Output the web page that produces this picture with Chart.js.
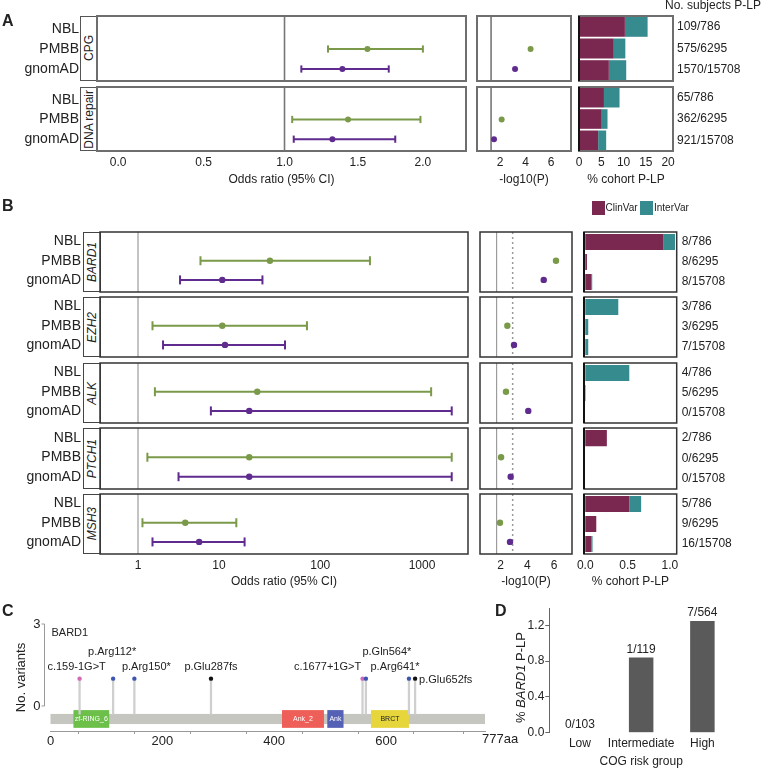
<!DOCTYPE html>
<html>
<head>
<meta charset="utf-8">
<script src="https://cdn.jsdelivr.net/npm/chart.js"></script>
<style>
  body { margin: 0; background: #fff; font-family: 'Liberation Sans', Arial, sans-serif; color: #222; }
  #fig { position: relative; width: 763px; height: 769px; overflow: hidden; }
  .lbl { position: absolute; white-space: nowrap; line-height: 1; }
  .letter { position: absolute; font-weight: bold; font-size: 16px; line-height: 1; }
  .strip { position: absolute; box-sizing: border-box; display: flex; align-items: center; justify-content: center; }
  .strip span { writing-mode: vertical-rl; transform: rotate(180deg); white-space: nowrap; font-size: 12px; }
  .sq { position: absolute; width: 13px; height: 14px; }
</style>
</head>
<body>
<div id="fig"></div>
<script>
// ---- data ----
const cohorts = ['NBL', 'PMBB', 'gnomAD'];
const groupsA = ['CPG', 'DNA repair'];
const genesB = ['BARD1', 'EZH2', 'ALK', 'PTCH1', 'MSH3'];

// odds ratio [estimate, lower, upper]; NBL is the case cohort so it has no row
const orPmbbA = [[1.57, 1.29, 2.0], [1.43, 1.05, 1.98]];
const orGnomadA = [[1.39, 1.11, 1.73], [1.32, 1.06, 1.78]];
const orPmbbB = [[32, 6.5, 308], [10.8, 1.8, 74], [24, 1.95, 1230], [20, 1.5, 1960], [4.5, 1.23, 14.9]];
const orGnomadB = [[10.8, 3.95, 27], [11.5, 2.5, 45], [20, 8.3, 1960], [20, 3.8, 1960], [6.3, 1.8, 18]];

// -log10(P)
const logpPmbbA = [4.4, 2.13];
const logpGnomadA = [3.18, 1.53];
const logpPmbbB = [6.15, 2.5, 2.4, 2.03, 1.95];
const logpGnomadB = [5.23, 3.0, 4.07, 2.75, 2.7];

// % cohort P-LP, rows NBL / PMBB / gnomAD
const clinvarA = [[10.3, 7.8, 6.7], [5.6, 5.1, 4.3]];
const intervarA = [[5.1, 2.6, 3.9], [3.5, 1.3, 1.8]];
const clinvarB = [[0.92, 0.02, 0.07], [0, 0, 0], [0, 0, 0], [0.255, 0, 0], [0.52, 0.13, 0.07]];
const intervarB = [[0.14, 0, 0.012], [0.39, 0.035, 0.035], [0.52, 0.006, 0], [0, 0, 0], [0.14, 0, 0.016]];

const countsA = [['109/786', '575/6295', '1570/15708'], ['65/786', '362/6295', '921/15708']];
const countsB = [['8/786', '8/6295', '8/15708'], ['3/786', '3/6295', '7/15708'], ['4/786', '5/6295', '0/15708'],
                 ['2/786', '0/6295', '0/15708'], ['5/786', '9/6295', '16/15708']];

const orTicksA = [0, 0.5, 1, 1.5, 2];
const orTicksB = [1, 10, 100, 1000];
const logpTicks = [2, 4, 6];
const pctTicksA = [0, 5, 10, 15, 20];
const pctTicksB = [0, 0.5, 1];

// panel C: BARD1 lollipops
const proteinLength = 777;
const variantPos = [52, 112, 150, 287, 558, 564, 641, 652];
const variantLabels = ['c.159-1G>T', 'p.Arg112*', 'p.Arg150*', 'p.Glu287fs', 'c.1677+1G>T', 'p.Gln564*', 'p.Arg641*', 'p.Glu652fs'];
const variantCounts = [1, 1, 1, 1, 1, 1, 1, 1];
const variantType = ['splice', 'nonsense', 'nonsense', 'frameshift', 'splice', 'nonsense', 'nonsense', 'frameshift'];
const domainNames = ['zf-RING_6', 'Ank_2', 'Ank', 'BRCT'];
const domainStart = [41, 414, 495, 573];
const domainEnd = [105, 489, 524, 641];
const proteinTicks = [0, 100, 200, 300, 400, 500, 600, 700, 777];

// panel D
const riskGroups = ['Low', 'Intermediate', 'High'];
const bard1Pct = [0, 0.84, 1.25];
const riskCounts = ['0/103', '1/119', '7/564'];
const riskTicks = [0, 0.4, 0.8, 1.2];

// ---- style ----
const GREEN = '#7a9a4a', PURPLE = '#5f2b8f', CLINVAR = '#7b2850', INTERVAR = '#368b8f';
const typeColor = { splice: '#d468b8', nonsense: '#3d55b0', frameshift: '#111' };
const domainColor = ['#6cc04a', '#ef5f5a', '#5561b5', '#e6d63c'];
const domainInk = ['#fff', '#fff', '#fff', '#222'];

Chart.defaults.font.family = "'Liberation Sans', Arial, sans-serif";
Chart.defaults.font.size = 12;
Chart.defaults.color = '#222';

// pseudo-log (ggplot pseudo_log_trans, sigma 1)
const plog = v => Math.asinh(v / 2);

const fig = document.getElementById('fig');

function mount(left, top, width, height, config) {
  const c = document.createElement('canvas');
  c.width = width; c.height = height;
  c.style.cssText = `position:absolute;left:${left}px;top:${top}px;width:${width}px;height:${height}px`;
  fig.appendChild(c);
  config.options = Object.assign({ responsive: false, animation: false, devicePixelRatio: 1, events: [] }, config.options);
  config.options.layout.autoPadding = false;
  return new Chart(c, config);
}

function html(cls, left, top, text, extra) {
  const d = document.createElement('div');
  d.className = cls;
  d.style.left = left + 'px'; d.style.top = top + 'px';
  if (extra) Object.assign(d.style, extra);
  d.innerHTML = text;
  fig.appendChild(d);
  return d;
}

// keep axes from shrinking the plot box for their end labels
const noPad = s => { s.paddingTop = 0; s.paddingBottom = 0; s.paddingLeft = 0; s.paddingRight = 0; };

const framePlugin = {
  id: 'frame',
  afterDraw(chart, args, opts) {
    if (!opts.color) return;
    const { ctx, chartArea: a } = chart;
    ctx.save();
    ctx.strokeStyle = opts.color; ctx.lineWidth = opts.width || 1.5;
    ctx.strokeRect(a.left, a.top, a.right - a.left, a.bottom - a.top);
    if (opts.leftColor) {
      ctx.strokeStyle = opts.leftColor; ctx.lineWidth = opts.leftWidth || 2;
      ctx.beginPath(); ctx.moveTo(a.left, a.top); ctx.lineTo(a.left, a.bottom); ctx.stroke();
    }
    ctx.restore();
  }
};

const refPlugin = {
  id: 'refs',
  beforeDatasetsDraw(chart, args, opts) {
    const lines = opts.lines || [];
    const { ctx, chartArea: a, scales: { x } } = chart;
    ctx.save();
    lines.forEach(l => {
      const px = x.getPixelForValue(l.x);
      ctx.strokeStyle = l.color; ctx.lineWidth = l.width;
      ctx.setLineDash(l.dash || []);
      ctx.beginPath(); ctx.moveTo(px, a.top); ctx.lineTo(px, a.bottom); ctx.stroke();
    });
    ctx.restore();
  }
};
Chart.register(framePlugin, refPlugin);

const secA = {
  names: groupsA, italic: false, tops: [16, 87], bottoms: [81, 151],
  stripX: 80, forestX: [97, 466], logpX: [477, 571], pctX: [579, 673],
  orRange: [-0.061, 1.006], orTicks: orTicksA, orFmt: v => v.toFixed(1),
  logpRange: [0.196, 7.57], logpRefs: [{ x: 1.3, color: '#777', width: 1.6 }],
  pctRange: [0, 21.1], pctTicks: pctTicksA, pctFmt: v => String(v),
  yRange: [-0.65, 2.6],
  orP: orPmbbA, orG: orGnomadA, lpP: logpPmbbA, lpG: logpGnomadA,
  clin: clinvarA, inter: intervarA, counts: countsA,
  frame: '#6e6e6e', frameW: 2, strip: '1.6px solid #555', refOr: { color: '#777', width: 1.6 },
  cap: 3.6, dot: 3, labPad: 18, barPct: 0.92, countPad: 4, titlePb: 3.8
};
const secB = {
  names: genesB, italic: true, tops: [232, 297, 363, 428, 494], bottoms: [292, 357, 423, 489, 554],
  stripX: 83, forestX: [100, 468], logpX: [480, 572], pctX: [583.5, 676.7],
  orRange: [-0.379, 7.949], orTicks: orTicksB, orFmt: v => String(v),
  logpRange: [0.45, 7.35],
  logpRefs: [{ x: 1.7, color: '#8a8a8a', width: 1 }, { x: 2.9, color: '#999', width: 1.5, dash: [2, 3] }],
  pctRange: [-0.015, 1.08], pctTicks: pctTicksB, pctFmt: v => v.toFixed(1),
  yRange: [-0.5, 2.63],
  orP: orPmbbB, orG: orGnomadB, lpP: logpPmbbB, lpG: logpGnomadB,
  clin: clinvarB, inter: intervarB, counts: countsB,
  frame: '#333', frameW: 1.5, strip: '1.5px solid #444', refOr: { color: '#888', width: 1 },
  cap: 4.5, dot: 3.2, labPad: 19, barPct: 0.8, countPad: 5, titlePb: 5
};

const AXIS_H = 40;
const SIDE = 12;

function xAxis(sec, range, vals, texts, show, title) {
  return {
    type: 'linear', min: range[0], max: range[1], display: show,
    grid: { display: false, drawTicks: false }, border: { display: false },
    afterBuildTicks: s => { s.ticks = vals.map(v => ({ value: v })); },
    ticks: { padding: 4, autoSkip: false, maxRotation: 0, font: { size: 12 }, callback: (v, i) => texts[i] },
    title: { display: true, text: title, font: { size: 12 }, padding: { top: 0, bottom: sec.titlePb } },
    afterFit: s => { s.height = show ? AXIS_H : 0; noPad(s); }
  };
}

function rowAxis(sec, show) {
  return {
    type: 'linear', reverse: true, min: sec.yRange[0], max: sec.yRange[1], display: show,
    grid: { display: false, drawTicks: false }, border: { display: false },
    afterBuildTicks: s => { s.ticks = cohorts.map((c, k) => ({ value: k })); },
    ticks: { padding: sec.labPad, font: { size: 14 }, callback: v => cohorts[v] },
    afterFit: s => { s.width = show ? sec.forestX[0] : 0; noPad(s); }
  };
}

function buildFacet(sec, i) {
  const last = i === sec.names.length - 1;
  const top = sec.tops[i], H = sec.bottoms[i] - sec.tops[i];
  const canvasH = 2 + H + (last ? AXIS_H : 2);

  // strip label
  const st = html('strip', sec.stripX, top, `<span>${sec.names[i]}</span>`,
    { width: (sec.forestX[0] - sec.stripX + 1) + 'px', height: H + 'px', border: sec.strip });
  if (sec.italic) st.firstChild.style.fontStyle = 'italic';

  // forest plot
  const ds = [];
  [[sec.orP[i], GREEN, 1], [sec.orG[i], PURPLE, 2]].forEach(([r, col, row]) => {
    ds.push({ data: [{ x: plog(r[1]), y: row }, { x: plog(r[2]), y: row }], showLine: true,
      borderColor: col, borderWidth: 2, pointStyle: 'line', pointRotation: 90,
      pointRadius: sec.cap, pointBorderColor: col, pointBorderWidth: 2 });
    ds.push({ data: [{ x: plog(r[0]), y: row }], pointRadius: sec.dot, backgroundColor: col, borderWidth: 0 });
  });
  const orVals = sec.orTicks.map(plog), orText = sec.orTicks.map(sec.orFmt);
  mount(0, top - 2, sec.forestX[1] + 2, canvasH, {
    type: 'scatter', data: { datasets: ds },
    options: {
      layout: { padding: { top: 2, bottom: last ? 0 : 2, left: 0, right: 2 } },
      plugins: { legend: { display: false }, tooltip: { enabled: false },
        frame: { color: sec.frame, width: sec.frameW },
        refs: { lines: [Object.assign({ x: plog(1) }, sec.refOr)] } },
      scales: { x: xAxis(sec, sec.orRange, orVals, orText, last, 'Odds ratio (95% CI)'), y: rowAxis(sec, true) }
    }
  });

  // -log10(P)
  const lw = sec.logpX[1] - sec.logpX[0];
  mount(sec.logpX[0] - SIDE, top - 2, lw + 2 * SIDE, canvasH, {
    type: 'scatter',
    data: { datasets: [
      { data: [{ x: sec.lpP[i], y: 1 }], pointRadius: sec.dot, backgroundColor: GREEN, borderWidth: 0 },
      { data: [{ x: sec.lpG[i], y: 2 }], pointRadius: sec.dot, backgroundColor: PURPLE, borderWidth: 0 }
    ] },
    options: {
      layout: { padding: { top: 2, bottom: last ? 0 : 2, left: SIDE, right: SIDE } },
      plugins: { legend: { display: false }, tooltip: { enabled: false },
        frame: { color: sec.frame, width: sec.frameW }, refs: { lines: sec.logpRefs } },
      scales: { x: xAxis(sec, sec.logpRange, logpTicks, logpTicks.map(String), last, '-log10(P)'), y: rowAxis(sec, false) }
    }
  });

  // % cohort P-LP
  const left = sec.pctX[0] - SIDE;
  mount(left, top - 2, 763 - left, canvasH, {
    type: 'bar',
    data: { labels: cohorts, datasets: [
      { label: 'ClinVar', data: sec.clin[i], backgroundColor: CLINVAR, barPercentage: sec.barPct, categoryPercentage: 1 },
      { label: 'InterVar', data: sec.inter[i], backgroundColor: INTERVAR, barPercentage: sec.barPct, categoryPercentage: 1 }
    ] },
    options: {
      indexAxis: 'y',
      layout: { padding: { top: 2, bottom: last ? 0 : 2, left: SIDE, right: 0 } },
      plugins: { legend: { display: false }, tooltip: { enabled: false },
        frame: { color: sec.frame, width: sec.frameW, leftColor: '#111', leftWidth: 2 } },
      scales: {
        x: Object.assign(xAxis(sec, sec.pctRange, sec.pctTicks, sec.pctTicks.map(sec.pctFmt), last, '% cohort P-LP'), { stacked: true }),
        y: { stacked: true, display: false, afterFit: s => { s.width = 0; noPad(s); } },
        y2: { type: 'category', position: 'right', labels: sec.counts[i], offset: true,
          grid: { display: false, drawTicks: false }, border: { display: false },
          ticks: { padding: sec.countPad, font: { size: 12 }, autoSkip: false },
          afterFit: s => { s.width = 763 - sec.pctX[1]; noPad(s); } }
      }
    }
  });
}

[secA, secB].forEach(sec => sec.names.forEach((n, i) => buildFacet(sec, i)));

// headings and legend
html('letter', 2, 13, 'A');
html('letter', 2, 198, 'B');
html('letter', 2, 603, 'C');
html('letter', 495, 603, 'D');
html('lbl', 665, -1, 'No. subjects P-LP', { fontSize: '12px' });
html('sq', 592, 201, '', { background: CLINVAR });
html('lbl', 605.5, 203, 'ClinVar', { fontSize: '10px' });
html('sq', 639.5, 201, '', { background: INTERVAR });
html('lbl', 654, 203, 'InterVar', { fontSize: '10px' });

// ---- panel C ----
const backboneY = [-0.29, -0.66], domainY = [-0.15, -0.8], stemBase = -0.3;
const labelOffsets = [[-3, -12], [-1, -27], [12, -12], [0, -12], [-35, -12], [21, -27], [-14, -12], [4, 1]];

const proteinPlugin = {
  id: 'protein',
  beforeDatasetsDraw(chart) {
    const { ctx, scales: { x, y } } = chart;
    ctx.save();
    const x0 = x.getPixelForValue(0), x1 = x.getPixelForValue(proteinLength);
    const b0 = y.getPixelForValue(backboneY[0]), b1 = y.getPixelForValue(backboneY[1]);
    ctx.fillStyle = '#c6c6c0';
    ctx.fillRect(x0, b0, x1 - x0, b1 - b0);
    const d0 = y.getPixelForValue(domainY[0]), d1 = y.getPixelForValue(domainY[1]);
    ctx.font = "7px 'Liberation Sans', Arial";
    ctx.textAlign = 'center'; ctx.textBaseline = 'middle';
    domainNames.forEach((name, i) => {
      const xa = x.getPixelForValue(domainStart[i]), xb = x.getPixelForValue(domainEnd[i]);
      ctx.fillStyle = domainColor[i];
      ctx.fillRect(xa, d0, xb - xa, d1 - d0);
      ctx.fillStyle = domainInk[i];
      ctx.fillText(name, (xa + xb) / 2, (d0 + d1) / 2 + 0.5);
    });
    // short y axis 0..3
    const ax = chart.chartArea.left - 6;
    ctx.strokeStyle = '#999'; ctx.lineWidth = 1;
    ctx.beginPath();
    ctx.moveTo(ax, y.getPixelForValue(3)); ctx.lineTo(ax, y.getPixelForValue(0));
    [0, 3].forEach(v => { const py = y.getPixelForValue(v); ctx.moveTo(ax - 3, py); ctx.lineTo(ax, py); });
    ctx.stroke();
    ctx.restore();
  },
  afterDatasetsDraw(chart) {
    const { ctx, scales: { x, y } } = chart;
    ctx.save();
    ctx.fillStyle = '#222';
    ctx.font = "11px 'Liberation Sans', Arial";
    ctx.textBaseline = 'middle';
    variantLabels.forEach((t, i) => {
      const [dx, dy] = labelOffsets[i];
      ctx.textAlign = i === variantLabels.length - 1 ? 'left' : 'center';
      ctx.fillText(t, x.getPixelForValue(variantPos[i]) + dx, y.getPixelForValue(variantCounts[i]) + dy);
    });
    ctx.font = "13px 'Liberation Sans', Arial";
    ctx.textAlign = 'left'; ctx.textBaseline = 'top';
    ctx.fillText(proteinLength + 'aa', x.getPixelForValue(proteinLength) - 3, chart.chartArea.bottom + 2);
    ctx.restore();
  }
};

mount(0, 612, 530, 157, {
  type: 'scatter',
  data: { datasets: [
    { type: 'scatter', data: variantPos.map((p, i) => ({ x: p, y: variantCounts[i] })),
      pointRadius: 2.2, borderWidth: 0, backgroundColor: variantType.map(t => typeColor[t]) },
    { type: 'bar', data: variantPos.map((p, i) => ({ x: p, y: [stemBase, variantCounts[i]] })),
      backgroundColor: '#cfcfcf', barThickness: 1.6 }
  ] },
  options: {
    layout: { padding: { top: 12, right: 45, bottom: 0, left: 0 } },
    plugins: { legend: { display: false }, tooltip: { enabled: false } },
    scales: {
      x: { type: 'linear', min: 0, max: proteinLength, offset: false,
        grid: { display: true, drawOnChartArea: false, drawTicks: true, tickLength: 3, color: '#999' },
        border: { display: true, color: '#999' },
        afterBuildTicks: s => { s.ticks = proteinTicks.map(v => ({ value: v })); },
        ticks: { padding: 0, autoSkip: false, maxRotation: 0, font: { size: 13 },
          callback: v => (v % 200 === 0 ? String(v) : '') },
        afterFit: s => { s.height = 38; noPad(s); } },
      y: { type: 'linear', min: -0.915, max: 3,
        grid: { display: false, drawTicks: false }, border: { display: false },
        afterBuildTicks: s => { s.ticks = [0, 3].map(v => ({ value: v })); },
        ticks: { padding: 10, font: { size: 13 } },
        title: { display: true, text: 'No. variants', font: { size: 13 }, padding: { top: 14, bottom: 0 } },
        afterFit: s => { s.width = 50.5; noPad(s); } }
    }
  },
  plugins: [proteinPlugin]
});
html('lbl', 51.5, 626.5, 'BARD1', { fontSize: '11px' });

// ---- panel D ----
const barLabelPlugin = {
  id: 'barLabels',
  afterDatasetsDraw(chart) {
    const { ctx } = chart;
    ctx.save();
    ctx.fillStyle = '#222';
    ctx.font = "12px 'Liberation Sans', Arial";
    ctx.textAlign = 'center'; ctx.textBaseline = 'bottom';
    chart.getDatasetMeta(0).data.forEach((bar, i) => ctx.fillText(riskCounts[i], bar.x, bar.y - 2));
    ctx.restore();
  }
};

mount(500, 600, 263, 169, {
  type: 'bar',
  data: { labels: riskGroups, datasets: [
    { data: bard1Pct, backgroundColor: '#5a5a5a', barPercentage: 0.4, categoryPercentage: 1 }
  ] },
  options: {
    layout: { padding: { top: 8, right: 30, bottom: 0, left: 0 } },
    plugins: { legend: { display: false }, tooltip: { enabled: false } },
    scales: {
      x: { grid: { display: false, drawTicks: false }, border: { display: false },
        ticks: { padding: 4, font: { size: 12 }, maxRotation: 0, minRotation: 0, autoSkip: false },
        title: { display: true, text: 'COG risk group', font: { size: 12 }, padding: { top: 0, bottom: 0 } },
        afterFit: s => { s.height = 36.3; noPad(s); } },
      y: { min: 0, max: 1.395,
        grid: { display: true, drawOnChartArea: false, drawTicks: true, tickLength: 4, color: '#666' },
        border: { display: true, color: '#666' },
        afterBuildTicks: s => { s.ticks = riskTicks.map(v => ({ value: v })); },
        ticks: { padding: 1, font: { size: 12 }, callback: v => v.toFixed(1) },
        afterFit: s => { s.width = 49.3; noPad(s); } }
    }
  },
  plugins: [barLabelPlugin]
});
// y title with italic gene name, laid out like the facet strips
const dTitle = html('strip', 511, 600, '<span>% <i>BARD1</i> P-LP</span>', { width: '19px', height: '156px' });
dTitle.firstChild.style.fontSize = '13px';
</script>
</body>
</html>
